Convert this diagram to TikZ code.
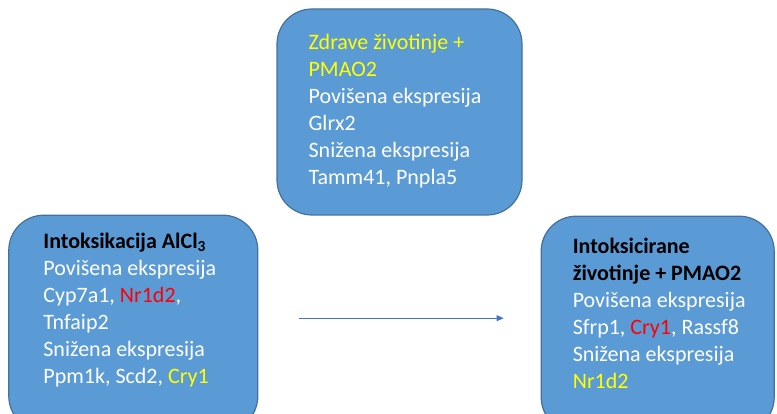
\documentclass[tikz,border=0pt]{standalone}
\usepackage{fontspec}
\setmainfont{Carlito}
\usetikzlibrary{arrows.meta, positioning}
\definecolor{boxfill}{HTML}{5B9BD5}
\definecolor{boxline}{HTML}{41719C}
\definecolor{arrowblue}{HTML}{4472C4}
\definecolor{hiyellow}{HTML}{FFFF00}
\definecolor{hired}{HTML}{FF0000}

\begin{document}
\begin{tikzpicture}[
  group/.style={
    rectangle, rounded corners=35pt,
    draw=boxline, fill=boxfill, line width=1.2pt,
    inner sep=0pt
  },
  genes/.style={
    inner sep=0pt, align=left, text=white,
    font=\fontsize{22pt}{27pt}\selectfont
  },
  arrow/.style={-{Triangle[length=7pt,width=6pt]}, draw=arrowblue, line width=0.8pt}
]
\useasboundingbox (0,0) rectangle (777pt,-414pt);
\clip (0,0) rectangle (777pt,-414pt);

\node[group, minimum width=245pt, minimum height=206pt] (zdrave) at (399.5pt,-112pt) {};
\node[group, minimum width=249pt, minimum height=216pt, below left=-1pt and 18pt of zdrave] (alcl) {};
\node[group, minimum width=233pt, minimum height=216pt, below right=0pt and 18pt of zdrave] (pmao) {};

\node[genes, below right=26pt and 32pt of zdrave.north west] (zdraveText) {%
  \textcolor{hiyellow}{Zdrave životinje +}\\
  \textcolor{hiyellow}{PMAO2}\\
  Povišena~ekspresija\\
  Glrx2\\
  Snižena~ekspresija\\
  Tamm41, Pnpla5};

\node[genes, below right=18.5pt and 35pt of alcl.north west] (alclText) {%
  \textcolor{black}{\textbf{Intoksikacija AlCl\textsubscript{3}}}\\
  Povišena~ekspresija\\
  Cyp7a1, \textcolor{hired}{Nr1d2},\\
  Tnfaip2\\
  Snižena~ekspresija\\
  Ppm1k, Scd2, \textcolor{hiyellow}{Cry1}};

\node[genes, below right=22pt and 32pt of pmao.north west] (pmaoText) {%
  \textcolor{black}{\textbf{Intoksicirane}}\\
  \textcolor{black}{\textbf{životinje + PMAO2}}\\
  Povišena~ekspresija\\
  Sfrp1, \textcolor{hired}{Cry1}, Rassf8\\
  Snižena~ekspresija\\
  \textcolor{hiyellow}{Nr1d2}};

\draw[arrow, shorten <=41pt, shorten >=37pt] ([yshift=5pt]alcl.east) -- ([yshift=5pt]alcl.east -| pmao.west);
\end{tikzpicture}
\end{document}
